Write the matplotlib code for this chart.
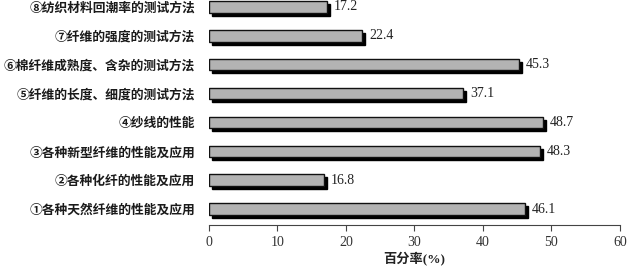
import matplotlib
matplotlib.use("Agg")
import matplotlib.pyplot as plt
from matplotlib.transforms import offset_copy

categories = ["①各种天然纤维的性能及应用", "②各种化纤的性能及应用", "③各种新型纤维的性能及应用",
              "④纱线的性能", "⑤纤维的长度、细度的测试方法", "⑥棉纤维成熟度、含杂的测试方法",
              "⑦纤维的强度的测试方法", "⑧纺织材料回潮率的测试方法"]
values = [46.1, 16.8, 48.3, 48.7, 37.1, 45.3, 22.4, 17.2]
xticks = [0, 10, 20, 30, 40, 50, 60]

plt.rcParams['font.family'] = ['Noto Sans CJK SC', 'DejaVu Sans']

fig = plt.figure(figsize=(6.27, 2.67), dpi=100)
ax = fig.add_axes([0.3333, 0.1573, 0.6555, 0.8427])

pos = list(range(len(categories)))
h = 0.4
shadow_tr = offset_copy(ax.transData, fig=fig, x=3, y=-3, units='dots')
ax.barh(pos, values, height=h, color='black', edgecolor='black', transform=shadow_tr, zorder=2)
ax.barh(pos, values, height=h, color='#b3b3b3', edgecolor='#111111', linewidth=1.0, zorder=3)

for p, v in zip(pos, values):
    ax.text(v + 1.0, p, f"{v}", va='center', ha='left', fontsize=10,
            family=['Liberation Serif'], color='#222222')

ax.set_xlim(0, 60)
ax.set_ylim(-0.55, 7.24)
ax.set_xticks(xticks)
ax.set_xticklabels([str(t) for t in xticks], family=['Liberation Serif'], fontsize=10, color='#333333')
ax.set_yticks(pos)
ax.set_yticklabels(categories, fontsize=9.2, color='#1a1a1a', fontweight='bold')
ax.tick_params(axis='y', length=0, pad=10)
ax.tick_params(axis='x', length=4, width=0.8, color='#444444', direction='out', pad=4)
for s in ['top', 'right', 'left']:
    ax.spines[s].set_visible(False)
ax.spines['bottom'].set_color('#444444')
ax.spines['bottom'].set_linewidth(0.8)
ax.set_xlabel("百分率(%)", fontsize=9.5, family=['Liberation Serif', 'Noto Sans CJK SC'],
              color='#222222', labelpad=2, fontweight='bold')

fig.savefig("out.png", dpi=100)
